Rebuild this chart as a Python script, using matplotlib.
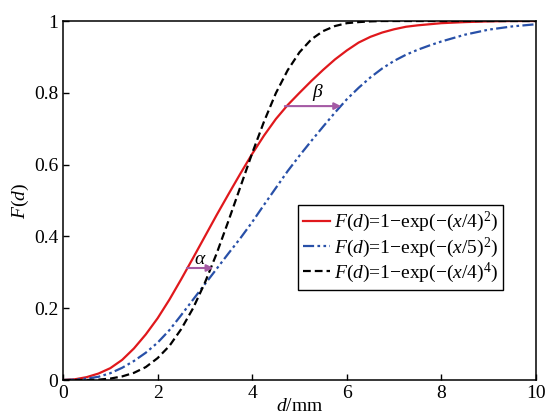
import matplotlib
matplotlib.use("Agg")
import matplotlib.pyplot as plt

plt.rcParams['font.family'] = ['Liberation Serif', 'DejaVu Serif']
plt.rcParams['mathtext.fontset'] = 'custom'
plt.rcParams['mathtext.rm'] = 'Liberation Serif'
plt.rcParams['mathtext.it'] = 'Liberation Serif:italic'

# valeurs
x_d = [0, 0.25, 0.5, 0.75, 1, 1.25, 1.5, 1.75, 2, 2.25, 2.5, 2.75, 3, 3.25, 3.5,
       3.75, 4, 4.25, 4.5, 4.75, 5, 5.25, 5.5, 5.75, 6, 6.25, 6.5, 6.75, 7,
       7.25, 7.5, 7.75, 8, 8.5, 9, 9.5, 10]

f_rouge = [0, 0.002, 0.008, 0.018, 0.033, 0.056, 0.088, 0.127, 0.172, 0.224, 0.281,
           0.340, 0.400, 0.460, 0.518, 0.575, 0.630, 0.681, 0.727, 0.766, 0.800,
           0.833, 0.864, 0.893, 0.918, 0.940, 0.956, 0.968, 0.977,
           0.984, 0.988, 0.991, 0.994, 0.997, 0.999, 1.0, 1.0]

f_bleu = [0, 0.001, 0.004, 0.009, 0.019, 0.034, 0.053, 0.076, 0.104, 0.139, 0.181,
          0.224, 0.267, 0.310, 0.353, 0.395, 0.440, 0.488, 0.535, 0.582, 0.625,
          0.666, 0.706, 0.745, 0.782, 0.814, 0.843, 0.868, 0.889,
          0.906, 0.920, 0.932, 0.943, 0.962, 0.976, 0.985, 0.991]

f_noir = [0, 0.0, 0.0002, 0.001, 0.004, 0.010, 0.020, 0.036, 0.061, 0.095, 0.142,
          0.200, 0.271, 0.353, 0.444, 0.538, 0.632, 0.720, 0.799, 0.863, 0.913,
          0.949, 0.972, 0.986, 0.994, 0.997, 0.999, 1.0, 1.0,
          1.0, 1.0, 1.0, 1.0, 1.0, 1.0, 1.0, 1.0]

labels = [r'$F$($d$)=1−exp(−($x$/4)$^2$)',
          r'$F$($d$)=1−exp(−($x$/5)$^2$)',
          r'$F$($d$)=1−exp(−($x$/4)$^4$)']

# fleches alpha et beta : (x debut, x fin, y)
fleche_alpha = (2.62, 3.18, 0.312)
fleche_beta = (4.69, 5.88, 0.763)

fig = plt.figure(figsize=(5.45, 4.17), dpi=100)
ax = fig.add_axes([0.1156, 0.0887, 0.8679, 0.8609])

ax.plot(x_d, f_rouge, color='#e0181c', lw=1.6, label=labels[0])
ax.plot(x_d, f_bleu, color='#2850a8', lw=1.6, ls=(0, (5, 1.5, 1.2, 1.5, 1.2, 1.5)), label=labels[1])
ax.plot(x_d, f_noir, color='black', lw=1.6, ls=(0, (3.5, 1.8)), label=labels[2])

for (x0, x1, y), nom, pos in [(fleche_alpha, r'$\alpha$', (2.9, 0.335)),
                              (fleche_beta, r'$\beta$', (5.4, 0.8))]:
    ax.annotate('', xy=(x1, y), xytext=(x0, y),
                arrowprops=dict(arrowstyle='-|>', color='#a45aa4', lw=1.5,
                                mutation_scale=10, shrinkA=0, shrinkB=0))
    ax.text(pos[0], pos[1], nom, fontsize=14, ha='center', va='center')

ax.set_xlim(0, 10)
ax.set_ylim(0, 1)
ax.set_xticks([0, 2, 4, 6, 8, 10])
ax.set_yticks([0, 0.2, 0.4, 0.6, 0.8, 1])
ax.set_yticklabels(['0', '0.2', '0.4', '0.6', '0.8', '1'])
ax.tick_params(direction='in', labelsize=14, length=4, width=1)
for s in ax.spines.values():
    s.set_linewidth(1.1)

ax.set_xlabel(r'$d$/mm', fontsize=14, labelpad=-3)
ax.set_ylabel(r'$F$($d$)', fontsize=14, labelpad=2)

leg = ax.legend(loc='upper right', bbox_to_anchor=(0.93, 0.487), fontsize=14,
                fancybox=False, edgecolor='black', framealpha=1,
                handlelength=1.4, handletextpad=0.2, borderpad=0.25,
                labelspacing=0.05, borderaxespad=0)
leg.get_frame().set_linewidth(1.0)

fig.savefig('out.png', dpi=100)
